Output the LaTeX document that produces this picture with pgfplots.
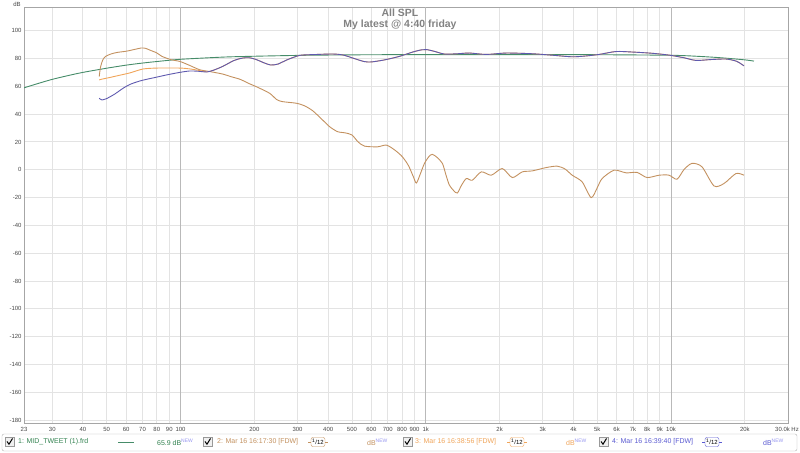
\documentclass[border=0pt]{standalone}
\usepackage{pgfplots}
\pgfplotsset{compat=1.18}
\usepackage{fontspec}
\setmainfont{Liberation Sans}
\definecolor{cgreen}{RGB}{70,140,105}
\definecolor{cgreentx}{RGB}{50,130,80}
\definecolor{ctan}{RGB}{195,145,95}
\definecolor{corange}{RGB}{240,165,90}
\definecolor{cblue}{RGB}{95,90,175}
\definecolor{cbluetx}{RGB}{90,90,210}
\definecolor{cnew}{RGB}{150,150,240}
\definecolor{tickc}{RGB}{70,70,70}
\definecolor{titlec}{RGB}{130,130,130}
\begin{document}
\begin{tikzpicture}[x=1bp,y=1bp]
\path[use as bounding box] (0,0) rectangle (800,453);
\begin{axis}[
  at={(24bp,30bp)}, anchor=south west,
  scale only axis, width=764bp, height=416bp,
  xmode=log, xmin=23, xmax=30000, ymin=-182, ymax=117,
  axis line style={draw=gray!70},
  major tick length=0pt,
  grid=major,
  grid style={draw=gray!22, line width=0.9bp},
  xtick={23,30,40,50,60,70,80,90,200,300,400,500,600,700,800,900,2000,3000,4000,5000,6000,7000,8000,9000,20000},
  xticklabels={23,30,40,50,60,70,80,90,200,300,400,500,600,700,800,900,2k,3k,4k,5k,6k,7k,8k,9k,20k},
  extra x ticks={100,1000,10000},
  extra x tick labels={100,1k,10k},
  extra x tick style={grid style={draw=gray!55, line width=0.9bp}},
  ytick={-180,-160,...,100},
  /pgf/number format/assume math mode=true,
  tick label style={font=\fontsize{6}{7}\selectfont, text=tickc},
  xticklabel style={yshift=-1bp},
  yticklabel style={xshift=1bp},
  every axis plot/.append style={line width=0.9bp, smooth, tension=0.45},
]
% 1: MID_TWEET (1).frd
\addplot[cgreen] table {
23 58.9
26 61.8
30 65.0
35 67.8
40 70.0
50 73.0
60 75.2
70 76.7
80 77.8
100 79.4
150 81.0
200 81.6
300 82.2
500 82.6
1000 82.8
3000 82.8
5000 82.7
10000 82.3
13000 81.5
16000 80.5
20000 79.0
21790 78.1
};
% 2: Mar 16 16:17:30
\addplot[ctan] table {
46.6 67.0
47.2 74.0
48.2 79.0
49.5 81.5
52.0 83.2
55.0 84.3
60.0 85.2
65.0 86.5
69.0 87.5
72.0 87.3
75.0 86.0
80.0 84.0
84.0 81.5
92.0 79.0
99.3 77.9
109.0 75.0
119.7 71.9
131.5 70.6
148.6 68.8
160.0 67.0
175.0 65.0
190.0 62.0
205.0 59.5
230.8 55.0
246.5 50.5
260.0 49.0
297.4 47.8
320.0 46.0
345.5 42.5
379.5 35.8
405.2 31.0
436.7 27.4
470.0 26.5
500.0 25.0
530.0 20.0
562.5 17.0
635.5 16.5
691.3 17.7
750.0 14.0
803.1 9.3
850.0 3.0
890.0 -5.0
915.7 -9.5
950.0 -3.0
987.2 4.5
1030.0 9.5
1064.0 11.1
1110.0 9.0
1169.0 4.6
1210.0 -4.0
1248.0 -11.0
1300.0 -15.0
1345.0 -16.7
1400.0 -11.0
1464.0 -6.3
1548.0 -7.5
1685.0 -1.5
1850.0 -3.9
2051.0 0.9
2253.0 -5.6
2475.0 -1.5
2718.0 -0.8
3099.0 1.6
3436.0 2.6
3700.0 0.5
3954.0 -3.9
4342.0 -8.7
4724.0 -20.0
5000.0 -13.0
5238.0 -6.3
5861.0 -0.3
6559.0 -2.2
7272.0 -1.9
7988.0 -5.6
8940.0 -3.9
9817.0 -3.9
10580.0 -6.8
11300.0 0.2
12180.0 4.6
13380.0 2.1
14970.0 -11.6
16440.0 -9.9
18400.0 -2.7
19840.0 -3.9
};
% 3: Mar 16 16:38:56
\addplot[corange] table {
46.6 64.6
48.0 65.2
52.0 66.5
56.0 67.8
62.1 69.6
70.2 72.4
80.0 73.1
99.3 73.1
109.0 72.5
119.7 71.3
127.9 70.4
136.0 71.5
148.6 74.3
165.0 78.5
179.2 80.3
191.4 80.5
204.4 79.1
218.0 77.0
233.0 75.3
250.0 76.0
270.0 78.8
305.8 82.2
350.0 82.8
416.7 83.2
460.0 82.5
510.0 80.0
560.0 77.8
600.0 77.5
680.0 79.0
780.6 81.5
880.0 84.5
960.0 86.2
1006.0 86.4
1080.0 85.2
1191.0 83.2
1350.0 83.4
1506.0 83.9
1766.0 82.9
2130.0 83.9
2718.0 83.4
3300.0 82.3
3954.0 81.2
4500.0 81.8
5093.0 82.9
5973.0 85.0
7000.0 84.6
8140.0 83.9
9000.0 83.2
10000.0 82.2
11300.0 80.5
12650.0 78.6
14500.0 79.2
16750.0 79.6
18500.0 78.0
19840.0 74.7
};
% 4: Mar 16 16:39:40
\addplot[cblue] table {
46.6 51.4
47.8 50.2
50.0 51.2
54.0 54.5
58.2 58.5
62.1 61.3
66.0 63.0
70.2 64.4
80.0 66.6
87.9 68.2
99.3 70.0
109.0 71.0
118.0 70.8
127.9 70.3
136.0 71.5
148.6 74.3
165.0 78.5
179.2 80.3
191.4 80.5
204.4 79.1
218.0 77.0
233.0 75.3
250.0 76.0
270.0 78.8
305.8 82.2
350.0 82.8
416.7 83.2
460.0 82.5
510.0 80.0
560.0 77.8
600.0 77.5
680.0 79.0
780.6 81.5
880.0 84.5
960.0 86.2
1006.0 86.4
1080.0 85.2
1191.0 83.2
1350.0 83.4
1506.0 83.9
1766.0 82.9
2130.0 83.9
2718.0 83.4
3300.0 82.3
3954.0 81.2
4500.0 81.8
5093.0 82.9
5973.0 85.0
7000.0 84.6
8140.0 83.9
9000.0 83.2
10000.0 82.2
11300.0 80.5
12650.0 78.6
14500.0 79.2
16750.0 79.6
18500.0 78.0
19840.0 74.7
};
\end{axis}
% titles and labels
\node[anchor=base, text=titlec, font=\bfseries\fontsize{10.5}{12}\selectfont, inner sep=0] at (400,436) {All SPL};
\node[anchor=base, text=titlec, font=\bfseries\fontsize{10.5}{12}\selectfont, inner sep=0] at (400,425) {My latest @ 4:40 friday};
\node[text=tickc, font=\fontsize{6}{7}\selectfont, inner sep=0] at (17,449) {dB};
\node[anchor=east, text=tickc, font=\fontsize{6}{7}\selectfont, inner sep=0] at (799,24) {30.0k Hz};
% legend bar
\draw[gray!60, rounded corners=2bp, fill=white] (2,2) rectangle (797,19);
\foreach \cx in {5,203,403,599}{
  \draw[gray!80, fill=gray!12] (\cx,7) rectangle ++(9,9);
  \draw[black, line width=1bp] (\cx+2,11.5) -- (\cx+4,8.8) -- (\cx+7.5,14.5);
}
\begin{scope}[font=\fontsize{7}{8}\selectfont]
\node[anchor=west, text=cgreentx, inner sep=0] at (18,11) {1: MID\_TWEET (1).frd};
\draw[cgreen, line width=0.9bp] (118,11) -- (134,11);
\node[anchor=west, text=cgreentx, inner sep=0] at (157,11) {65.9 dB\textsuperscript{\textcolor{cnew}{NEW}}};
\node[anchor=west, text=ctan, inner sep=0] at (217,11) {2: Mar 16 16:17:30 [FDW]};
\node[anchor=west, text=ctan, inner sep=0] at (367,11) {dB\textsuperscript{\textcolor{cnew}{NEW}}};
\node[anchor=west, text=corange, inner sep=0] at (415,11) {3: Mar 16 16:38:56 [FDW]};
\node[anchor=west, text=corange, inner sep=0] at (566,11) {dB\textsuperscript{\textcolor{cnew}{NEW}}};
\node[anchor=west, text=cbluetx, inner sep=0] at (612,11) {4: Mar 16 16:39:40 [FDW]};
\node[anchor=west, text=cbluetx, inner sep=0] at (763,11) {dB\textsuperscript{\textcolor{cnew}{NEW}}};
\end{scope}
\foreach \sx/\sc in {308/ctan,507/corange,702/cbluetx}{
  \draw[\sc, line width=0.7bp] (\sx,11) -- (\sx+3,11);
  \draw[\sc, line width=0.7bp] (\sx+17,11) -- (\sx+20,11);
  \node[draw=\sc, rounded corners=2bp, text=black, font=\fontsize{6}{6}\selectfont, inner sep=0.8bp, minimum width=14bp, minimum height=9bp] at (\sx+10,11) {\textsuperscript{1}/12};
}
\end{tikzpicture}
\end{document}
